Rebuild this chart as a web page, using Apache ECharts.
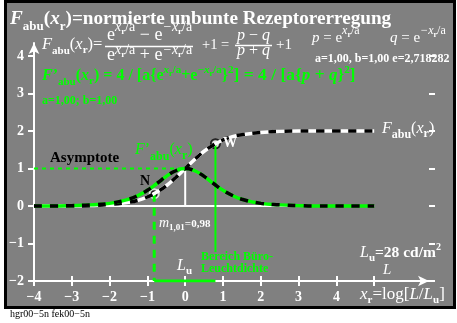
<!DOCTYPE html>
<html>
<head>
<meta charset="utf-8">
<script src="https://cdn.jsdelivr.net/npm/echarts@6/dist/echarts.min.js"></script>
<style>
  html, body { margin: 0; padding: 0; background: #fff; }
  #chart { width: 457px; height: 323px; }
</style>
</head>
<body>
<div id="chart"></div>
<script>
// values
const xr = [-4, -3.5, -3, -2.5, -2, -1.5, -1.25, -1, -0.75, -0.5, -0.25, 0, 0.25, 0.5, 0.75, 1, 1.25, 1.5, 2, 2.5, 3, 3.5, 4, 4.5, 5];
const f_abu = [0.00, 0.00, 0.00, 0.01, 0.04, 0.10, 0.15, 0.24, 0.37, 0.54, 0.76, 1.00, 1.24, 1.46, 1.63, 1.76, 1.85, 1.90, 1.96, 1.99, 2.00, 2.00, 2.00, 2.00, 2.00];
const f_abu_d = [0.00, 0.00, 0.01, 0.03, 0.07, 0.18, 0.28, 0.42, 0.60, 0.79, 0.94, 1.00, 0.94, 0.79, 0.60, 0.42, 0.28, 0.18, 0.07, 0.03, 0.01, 0.00, 0.00, 0.00, 0.00];
const x_ticks = [-4, -3, -2, -1, 0, 1, 2, 3, 4, 5];
const x_labels = [-4, -3, -2, -1, 0, 1, 2, 3, 4];
const y_ticks = [-2, -1, 0, 1, 2, 3, 4];
const point_n = [-0.82, 0.33];
const point_w = [0.80, 1.66];
const zero_line = [[-4, 0], [5, 0]];
const asymptote = [[-4, 1], [0, 1]];
const peak_line = [[0, 0], [0, 1]];
const n_drop = [[-0.82, 0.33], [-0.82, -2]];
const range_line = [[-0.82, -2], [0.80, -2]];
const w_drop = [[0.80, 1.66], [0.80, -1.23]];

const FONT = '"Liberation Serif", "DejaVu Serif", serif';
const WHITE = '#ffffff', GREEN = '#00ff00', BLACK = '#000000';

// plot frame
const X_MIN = -4, X_MAX = 6.45, Y_MIN = -2, Y_MAX = 4.35;
const PX_X = 37.8, PX_Y = 37.5;
const G_LEFT = 34, G_BOTTOM = 281;
const G_W = (X_MAX - X_MIN) * PX_X, G_H = (Y_MAX - Y_MIN) * PX_Y;

const meas = document.createElement('canvas').getContext('2d');

// lays out a row of text pieces: [text, size, style(b/i), dy]
function run(x, base, parts, color) {
  const els = [];
  parts.forEach(p => {
    const text = p[0], size = p[1], sty = p[2] || '', dy = p[3] || 0;
    const weight = sty.indexOf('b') >= 0 ? 'bold' : 'normal';
    const fstyle = sty.indexOf('i') >= 0 ? 'italic' : 'normal';
    meas.font = fstyle + ' ' + weight + ' ' + size + 'px ' + FONT;
    els.push({
      type: 'text', z: 100,
      x: x, y: base + dy - 0.32 * size,
      style: {
        text: text, fill: color, fontSize: size, fontFamily: FONT,
        fontWeight: weight, fontStyle: fstyle,
        align: 'left', verticalAlign: 'middle'
      }
    });
    x += meas.measureText(text).width;
  });
  els.endX = x;
  return els;
}

function hline(x1, x2, y, color, w) {
  return {type: 'line', z: 100, shape: {x1: x1, y1: y, x2: x2, y2: y}, style: {stroke: color, lineWidth: w}};
}

const g = [];

g.push({type: 'rect', z: -1, shape: {x: 5.5, y: 1.5, width: 449, height: 306}, style: {fill: '#808080', stroke: BLACK, lineWidth: 3}});

// title
g.push(...run(10, 25, [
  ['F', 19.2, 'bi'], ['abu', 13, 'b', 6], ['(', 19.2, 'b'], ['x', 19.2, 'bi'], ['r', 13, 'b', 6],
  [')=normierte unbunte Rezeptorerregung', 19.2, 'b']
], WHITE));

// formula row
const ex = (sign, up) => [
  ['e', 18], ['x', 14, 'i', -up], ['r', 9, 'b', 3 - up], ['/a', 14, '', -up],
  [sign + 'e', 18], ['−x', 14, 'i', -up], ['r', 9, 'b', 3 - up], ['/a', 14, '', -up]
];
g.push(...run(42, 50, [
  ['F', 16.5, 'i'], ['abu', 11, 'b', 5], ['(', 16.5], ['x', 16.5, 'i'], ['r', 11, 'b', 4], [')=', 16.5]
], WHITE));
g.push(...run(107, 41, ex(' − ', 9), WHITE));
g.push(hline(105, 193, 46.5, WHITE, 1.3));
g.push(...run(107, 61, ex(' + ', 6), WHITE));
g.push(...run(202, 50, [['+1 =', 14.5]], WHITE));
g.push(...run(237, 41, [['p', 16, 'i'], [' − ', 16], ['q', 16, 'i']], WHITE));
g.push(hline(235, 272, 45.5, WHITE, 1.3));
g.push(...run(237, 56, [['p', 16, 'i'], [' + ', 16], ['q', 16, 'i']], WHITE));
g.push(...run(276, 50, [['+1', 15]], WHITE));
g.push(...run(312, 43, [['p', 15, 'i'], [' = e', 15], ['x', 12, 'i', -8], ['r', 8, 'b', -6], ['/a', 12, '', -8]], WHITE));
g.push(...run(390, 43, [['q', 15, 'i'], [' = e', 15], ['−x', 12, 'i', -8], ['r', 8, 'b', -6], ['/a', 12, '', -8]], WHITE));
g.push(...run(315, 63, [['a=1,00, b=1,00 e=2,718282', 12, 'b']], WHITE));

// derivative formula (green)
const sup = (s, b) => [s, 11, b, -7];
g.push(...run(42, 81, [
  ['F', 16, 'bi'], ['\u2019', 16, 'b'], ['abu', 11, 'b', 5], ['(', 16, 'b'], ['x', 16, 'bi'], ['r', 11, 'b', 4],
  [') = 4 / [a{e', 16, 'b'], sup('x', 'bi'), ['r', 8, 'b', -5], sup('/a', 'b'),
  ['+e', 16, 'b'], sup('−x', 'bi'), ['r', 8, 'b', -5], sup('/a', 'b'),
  ['}', 16, 'b'], sup('2', 'b'), ['] = 4 / [a{', 17.5, 'b'], ['p', 17, 'bi'], [' + ', 17.5, 'b'], ['q', 17, 'bi'],
  ['}', 17, 'b'], sup('2', 'b'), [']', 17, 'b']
], GREEN));
g.push(...run(42, 105, [['a=1,00; b=1,00', 12, 'b']], GREEN));

// annotations in the plot
g.push(...run(50, 163, [['Asymptote', 15, 'b']], BLACK));
g.push(...run(135, 155, [['F', 16, 'i'], ['\u2019', 16], ['abu', 12, 'b', 6], ['(', 16], ['x', 16, 'i'], ['r', 12, 'b', 5], [')', 16]], GREEN));
g.push(...run(140, 186, [['N', 14, 'b']], BLACK));
g.push(...run(223, 148, [['W', 14, 'b']], WHITE));
g.push(...run(382, 134, [['F', 16, 'i'], ['abu', 12, 'b', 5], ['(', 16], ['x', 16, 'i'], ['r', 12, 'b', 4], [')', 16]], WHITE));
g.push(...run(159, 228, [['m', 14, 'i'], ['1,01', 9, 'b', 3], ['=0,98', 11, 'b']], WHITE));
g.push(...run(201, 261, [['Bereich Büro-', 12, 'b']], GREEN));
g.push(...run(201, 273, [['Leuchtdichte', 12, 'b']], GREEN));
g.push(...run(177, 271, [['L', 16, 'i'], ['u', 11, 'b', 4]], WHITE));
g.push(...run(360, 258, [['L', 16, 'i'], ['u', 11, 'b', 4], ['=28', 15.5, 'b'], [' cd/m', 15.5, 'b'], ['2', 10, 'b', -7]], WHITE));
g.push(...run(383, 275, [['L', 15, 'i']], WHITE));
g.push(...run(360, 300, [['x', 17, 'i'], ['r', 11, 'b', 4], ['=log[', 17], ['L', 17, 'i'], ['/', 17], ['L', 17, 'i'], ['u', 11, 'b', 4], [']', 17]], WHITE));
g.push(...run(10, 318, [['hgr00−5n fek00−5n', 10]], BLACK));

const axisLine = {color: WHITE, width: 2};
const minus = v => String(v).replace('-', '\u2212');

function seg(data, color, width, type) {
  return {
    type: 'line', data: data, symbol: 'none', silent: true,
    lineStyle: {color: color, width: width, type: type || 'solid'}
  };
}

const pts = a => xr.map((x, i) => [x, a[i]]);

const chart = echarts.init(document.getElementById('chart'), null, {renderer: 'canvas'});
chart.setOption({
  backgroundColor: '#ffffff',
  animation: false,
  grid: {left: G_LEFT, top: G_BOTTOM - G_H, width: G_W, height: G_H, containLabel: false},
  xAxis: [{
    type: 'value', min: X_MIN, max: X_MAX, position: 'bottom',
    axisLine: {show: true, onZero: false, lineStyle: axisLine, symbol: ['none', 'arrow'], symbolSize: [8, 11]},
    axisTick: {show: true, customValues: x_ticks, length: 5, lineStyle: axisLine},
    axisLabel: {customValues: x_labels, formatter: minus, color: WHITE, fontFamily: FONT, fontWeight: 'bold', fontSize: 14, margin: 9},
    splitLine: {show: false}
  }, {
    type: 'value', min: X_MIN, max: X_MAX, position: 'top', offset: -G_H,
    axisLine: {show: false},
    axisTick: {show: true, customValues: x_ticks, length: 5, lineStyle: axisLine},
    axisLabel: {show: false}, splitLine: {show: false}
  }],
  yAxis: [{
    type: 'value', min: Y_MIN, max: Y_MAX, position: 'left',
    axisLine: {show: true, onZero: false, lineStyle: axisLine, symbol: ['none', 'arrow'], symbolSize: [8, 11]},
    axisTick: {show: true, customValues: y_ticks, length: 6, lineStyle: axisLine},
    axisLabel: {customValues: y_ticks, formatter: minus, color: WHITE, fontFamily: FONT, fontWeight: 'bold', fontSize: 14, margin: 10},
    splitLine: {show: false}
  }, {
    type: 'value', min: Y_MIN, max: Y_MAX, position: 'right', offset: -G_W,
    axisLine: {show: false},
    axisTick: {show: true, customValues: y_ticks, length: 6, lineStyle: axisLine},
    axisLabel: {show: false}, splitLine: {show: false}
  }],
  series: [
    seg(zero_line, WHITE, 2),
    seg(asymptote, GREEN, 2, [4, 4]),
    seg(peak_line, WHITE, 2),
    seg(w_drop, GREEN, 2),
    seg(n_drop, GREEN, 3, [8, 6]),
    seg(range_line, GREEN, 3),
    Object.assign(seg(pts(f_abu), WHITE, 3.5), {smooth: true}),
    Object.assign(seg(pts(f_abu), BLACK, 3.5, [8, 8]), {smooth: true}),
    Object.assign(seg(pts(f_abu_d), GREEN, 3.5), {smooth: true}),
    Object.assign(seg(pts(f_abu_d), BLACK, 3.5, [8, 8]), {smooth: true}),
    {
      type: 'scatter', symbolSize: 9, silent: true,
      data: [
        {value: point_n, itemStyle: {color: BLACK, borderColor: WHITE, borderWidth: 2}},
        {value: point_w, itemStyle: {color: WHITE, borderColor: BLACK, borderWidth: 2}}
      ]
    }
  ],
  graphic: {elements: g}
});
</script>
</body>
</html>
